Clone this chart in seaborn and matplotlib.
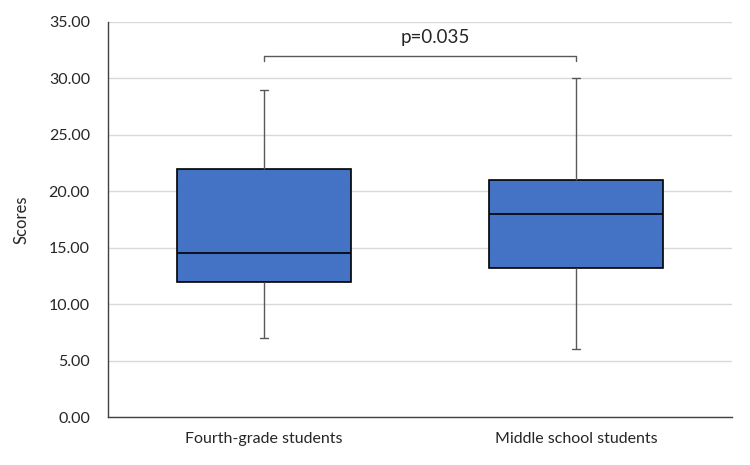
import numpy as np
import pandas as pd
import seaborn as sns
import matplotlib
matplotlib.use("Agg")
import matplotlib.pyplot as plt
from matplotlib.ticker import FormatStrFormatter

# five-number summaries (min, Q1, median, Q3, max)
groups = ["Fourth-grade students", "Middle school students"]
fourth_grade = [7.0, 12.0, 14.5, 22.0, 29.0]
middle_school = [6.0, 13.2, 18.0, 21.0, 30.0]
p_label = "p=0.035"

df = pd.DataFrame({
    "group": [groups[0]] * len(fourth_grade) + [groups[1]] * len(middle_school),
    "Scores": fourth_grade + middle_school,
})

sns.set_style("white")
plt.rcParams["font.family"] = ["Lato", "DejaVu Sans"]

fig = plt.figure(figsize=(7.5, 4.65), dpi=100)
ax = fig.add_axes([0.144, 0.103, 0.832, 0.850])

sns.boxplot(data=df, x="group", y="Scores", ax=ax, color="#4472C4",
            width=0.555, whis=1.5, linecolor="black", linewidth=1.0,
            saturation=1,
            whiskerprops=dict(color="#595959", linewidth=1.0),
            capprops=dict(color="#595959", linewidth=1.0),
            medianprops=dict(color="black", linewidth=1.2),
            boxprops=dict(edgecolor="black", linewidth=1.2),
            capwidths=0.026)

ax.set_ylim(0, 35)
ax.set_xlim(-0.5, 1.5)
ax.set_yticks(np.arange(0, 36, 5))
ax.yaxis.set_major_formatter(FormatStrFormatter("%.2f"))
ax.yaxis.grid(True, color="#D9D9D9", linewidth=1.0)
ax.set_axisbelow(True)
for s in ["top", "right"]:
    ax.spines[s].set_visible(False)
for s in ["left", "bottom"]:
    ax.spines[s].set_color("#404040")
    ax.spines[s].set_linewidth(1.0)
ax.tick_params(axis="y", length=0, labelsize=11.5, colors="#262626", pad=13)
ax.tick_params(axis="x", length=0, labelsize=11.5, colors="#262626", pad=11)
ax.set_xlabel("")
ax.set_ylabel("Scores", fontsize=12, color="#262626", labelpad=14)

# significance bracket
ax.plot([0, 0, 1, 1], [31.5, 32.0, 32.0, 31.5], color="#595959", linewidth=1.0)
ax.text(0.55, 32.9, p_label, ha="center", va="bottom", fontsize=13.5, color="#262626")

fig.savefig("out.png", dpi=100)
